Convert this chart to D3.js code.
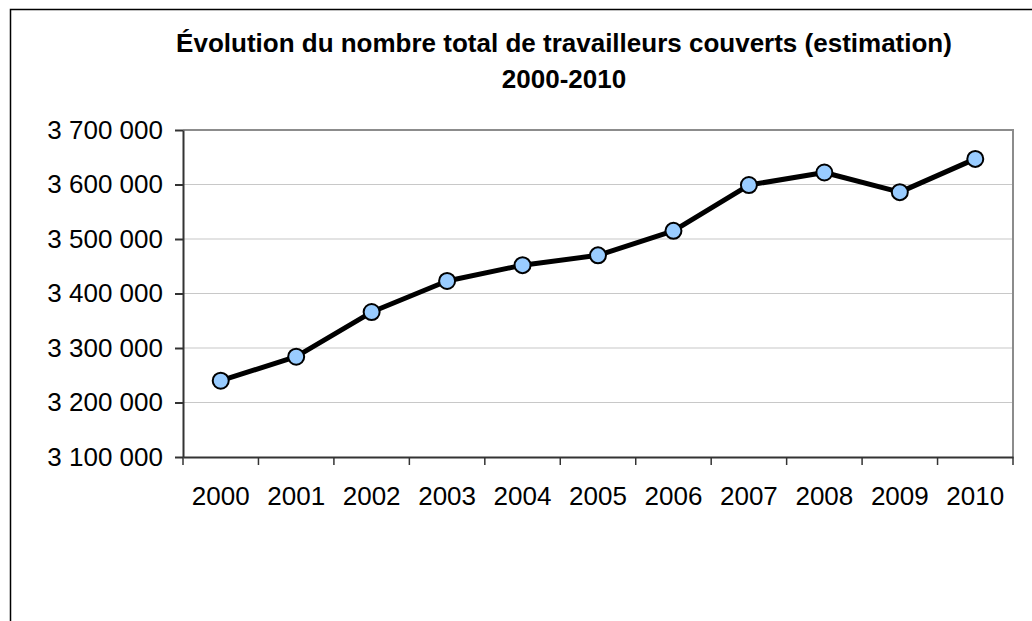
<!DOCTYPE html>
<html>
<head>
<meta charset="utf-8">
<title>Travailleurs couverts 2000-2010</title>
<script src="https://d3js.org/d3.v7.min.js"></script>
<style>
  body { margin: 0; background: #fff; }
  svg text { font-family: "Liberation Sans", Arial, sans-serif; fill: #000; }
</style>
</head>
<body>
<div id="chart"></div>
<script>
// data
const years = ["2000", "2001", "2002", "2003", "2004", "2005", "2006", "2007", "2008", "2009", "2010"];
const workers = [3240000, 3284000, 3366000, 3423000, 3452000, 3470000, 3515000, 3599000, 3622000, 3586000, 3647000];
const yTicks = [3100000, 3200000, 3300000, 3400000, 3500000, 3600000, 3700000];
const titleLines = ["Évolution du nombre total de travailleurs couverts (estimation)", "2000-2010"];

const W = 1032, H = 621;
const margin = {top: 130, left: 183, right: 19, bottom: 164};
const width = W - margin.left - margin.right;
const height = H - margin.top - margin.bottom;

const fr = d3.formatLocale({decimal: ",", thousands: " ", grouping: [3], currency: ["", " €"]});
const fmt = fr.format(",d");

const svg = d3.select("#chart").append("svg")
    .attr("width", W)
    .attr("height", H);

// outer frame (right and bottom edges fall outside the picture)
svg.append("rect")
    .attr("x", 10.5).attr("y", 9.5)
    .attr("width", 1040).attr("height", 700)
    .attr("fill", "none")
    .attr("stroke", "#000")
    .attr("stroke-width", 1.5);

// title
svg.append("g").selectAll("text")
    .data(titleLines)
    .join("text")
    .attr("x", 564)
    .attr("y", (d, i) => 52 + i * 36)
    .attr("text-anchor", "middle")
    .style("font-size", "26px")
    .style("font-weight", "bold")
    .text(d => d);

const g = svg.append("g")
    .attr("transform", `translate(${margin.left},${margin.top})`);

const x = d3.scaleBand()
    .domain(years)
    .range([0, width])
    .padding(0);

const y = d3.scaleLinear()
    .domain([3100000, 3700000])
    .range([height, 0]);

// grid lines
g.append("g").selectAll("line")
    .data(yTicks.slice(1, -1))
    .join("line")
    .attr("x1", 0).attr("x2", width)
    .attr("y1", d => y(d)).attr("y2", d => y(d))
    .attr("stroke", "#c8c8c8")
    .attr("stroke-width", 1.2);

// plot area border top/right (grey)
g.append("path")
    .attr("d", `M0,${y(3700000)}H${width}V${height}`)
    .attr("fill", "none")
    .attr("stroke", "#8c8c8c")
    .attr("stroke-width", 2);

// y axis
const yAxis = d3.axisLeft(y)
    .tickValues(yTicks)
    .tickFormat(fmt)
    .tickSizeInner(8)
    .tickSizeOuter(0)
    .tickPadding(12);

const yG = g.append("g").call(yAxis);
yG.selectAll("text").style("font-size", "26px").style("font-family", null);
yG.selectAll("line, path").attr("stroke", "#333").attr("stroke-width", 2);

// x axis: labels centred in bands, ticks on band boundaries
const xAxis = d3.axisBottom(x)
    .tickSize(0)
    .tickPadding(30);

const xG = g.append("g")
    .attr("transform", `translate(0,${height})`)
    .call(xAxis);
xG.selectAll("text").style("font-size", "26px").style("font-family", null);
xG.select(".domain").attr("stroke", "#333").attr("stroke-width", 2);

const bounds = years.map(d => x(d)).concat([width]);
xG.append("g").selectAll("line")
    .data(bounds)
    .join("line")
    .attr("x1", d => d).attr("x2", d => d)
    .attr("y1", 0).attr("y2", 8)
    .attr("stroke", "#333")
    .attr("stroke-width", 1.5);

// series
const cx = (d, i) => x(years[i]) + x.bandwidth() / 2;

const line = d3.line()
    .x(cx)
    .y(d => y(d));

g.append("path")
    .datum(workers)
    .attr("d", line)
    .attr("fill", "none")
    .attr("stroke", "#000")
    .attr("stroke-width", 5)
    .attr("stroke-linejoin", "round");

g.append("g").selectAll("circle")
    .data(workers)
    .join("circle")
    .attr("cx", cx)
    .attr("cy", d => y(d))
    .attr("r", 8)
    .attr("fill", "#99ccff")
    .attr("stroke", "#000")
    .attr("stroke-width", 2);
</script>
</body>
</html>
